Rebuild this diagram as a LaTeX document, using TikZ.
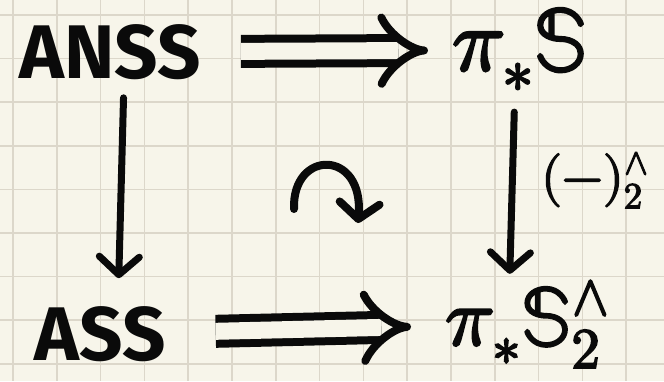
\documentclass[tikz,border=0pt]{standalone}
\usepackage{fontspec}
\usepackage{unicode-math}
\setmainfont{Fira Sans}
\setmathfont{Latin Modern Math}[FakeBold=3]
\usetikzlibrary{arrows.meta}

\definecolor{paper}{HTML}{F7F5EA}
\definecolor{gridline}{HTML}{DCD7CA}
\definecolor{ink}{HTML}{0A0A0A}

\begin{document}
\begin{tikzpicture}[x=1pt,y=-1pt,
  obj/.style={inner sep=0pt,text=ink,font=\fontsize{76}{80}\selectfont\bfseries},
  mathobj/.style={inner sep=0pt,text=ink,font=\fontsize{88}{90}\selectfont},
  tomap/.style={ink,line width=8pt,double=paper,double distance=17pt,-{Implies}},
  downmap/.style={ink,line width=7pt,line cap=round,-{Straight Barb[length=18pt,width=40pt,round]}}]
\useasboundingbox (0,0) rectangle (664,381);
\fill[paper] (0,0) rectangle (664,381);
\foreach \x in {0,...,14}
  \draw[gridline,line width=1.6pt] (13+43.8*\x,0) -- (13+43.8*\x,381);
\foreach \y in {0,...,8}
  \draw[gridline,line width=1.6pt] (0,15+43.6*\y) -- (664,15+43.6*\y);

\node[obj] (anss) at (110,52) {ANSS};
\node[mathobj,anchor=west] (pis) at (452,50) {$\pi_*\mathbb{S}$};
\node[obj] (ass) at (100,334) {ASS};
\node[mathobj,font=\fontsize{82}{84}\selectfont,anchor=west] (pisc) at (445,324) {$\pi_*\mathbb{S}^\wedge_2$};
\node[mathobj,font=\fontsize{53}{55}\selectfont,anchor=west] (compl) at (541,180) {$(-)^\wedge_2$};

\draw[tomap,shorten <=40pt,shorten >=24pt] (anss) -- (pis);
\draw[tomap,shorten <=50pt,shorten >=34pt] (ass) -- (pisc);
\draw[downmap,shorten <=18pt,shorten >=28pt] ([xshift=14pt]anss.south) -- ([xshift=18pt]ass.north);
\draw[downmap,shorten <=20pt,shorten >=6pt] ([xshift=-5pt]pis.south) -- ([xshift=-18pt]pisc.north);

% commutes
\coordinate (turn) at (328,205);
\draw[ink,line width=8pt,line cap=round,-{Straight Barb[length=16pt,width=40pt,round]}]
  ([shift={(-34,4)}]turn) .. controls ([shift={(-36,-56)}]turn) and ([shift={(36,-56)}]turn) .. ([shift={(30,18)}]turn);
\end{tikzpicture}
\end{document}
